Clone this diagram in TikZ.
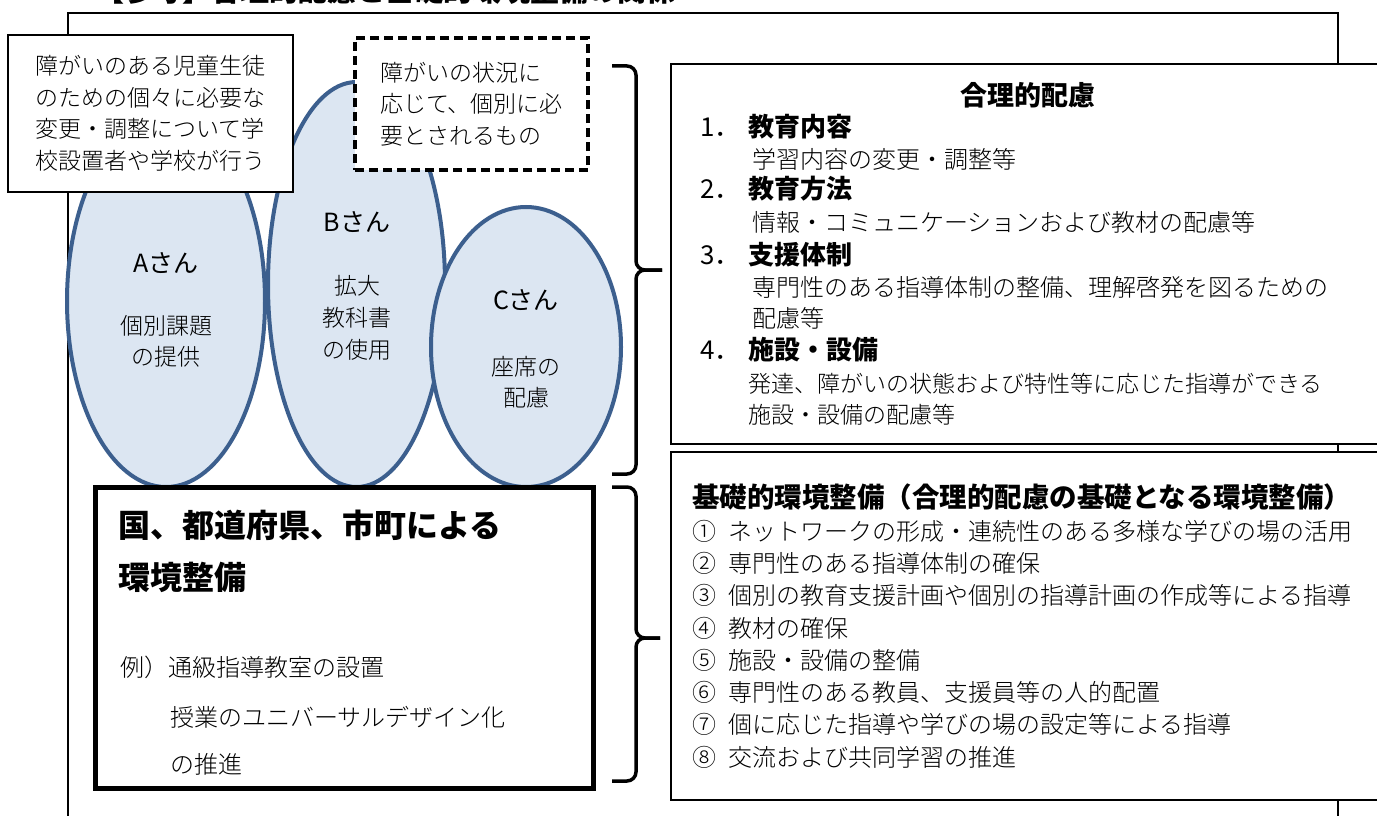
\documentclass[tikz,border=0pt]{standalone}
\usepackage{fontspec}
\setmainfont{Noto Sans CJK JP}
\IfFontExistsTF{Noto Sans CJK JP Light}
  {\newfontfamily\thin{Noto Sans CJK JP Light}}
  {\newfontfamily\thin{Noto Sans CJK JP}}
\usetikzlibrary{shapes.geometric}
\definecolor{pupilfill}{HTML}{DCE6F2}
\definecolor{pupilline}{HTML}{3C5F8E}
\newcommand{\fs}[2]{\fontsize{#1}{#2}\selectfont}

\begin{document}
\begin{tikzpicture}[x=1pt,y=-1pt]
  \tikzstyle{pupil}=[ellipse,draw=pupilline,line width=4pt,fill=pupilfill,inner sep=0pt]
  \tikzstyle{note}=[draw,fill=white,line width=2.5pt,inner sep=0pt]
  \tikzstyle{panel}=[draw,fill=white,line width=2pt,inner sep=0pt]
  \tikzstyle{line}=[anchor=west,inner sep=0pt]
  \tikzstyle{brace}=[draw,line width=3.5pt,rounded corners=9pt]

  \useasboundingbox (0,0) rectangle (1377,816);
  \clip (0,0) rectangle (1377,816);

  % title, cut by the top edge
  \node[line,font=\fs{29}{34}\bfseries] (title) at (95,-9) {【参考】合理的配慮と基礎的環境整備の関係};
  \node[draw,line width=2pt,minimum width=1270,minimum height=900,anchor=north west,inner sep=0pt] (frame) at (67,12) {};

  % pupils
  \node[pupil,minimum width=198,minimum height=372] (a) at (166,301) {};
  \node[pupil,minimum width=177,minimum height=405] (b) at (356.5,284.5) {};
  \node[pupil,minimum width=190,minimum height=280] (c) at (526,347) {};
  \node[font=\fs{25}{28}] (aname) at (166,263) {Aさん};
  \node[align=center,font=\thin\fs{23}{31}] (atext) at (166,341) {個別課題\\の提供};
  \node[font=\fs{25}{28}] (bname) at (357,222) {Bさん};
  \node[align=center,font=\thin\fs{23}{32}] (btext) at (357,318) {拡大\\教科書\\の使用};
  \node[font=\fs{25}{28}] (cname) at (526,300) {Cさん};
  \node[align=center,font=\thin\fs{23}{31}] (ctext) at (526,382) {座席の\\配慮};

  % notes
  \node[note,minimum width=285,minimum height=157,align=left,font=\thin\fs{23}{31.5}] (duty) at (150.5,113.5)
    {障がいのある児童生徒\\のための個々に必要な\\変更・調整について学\\校設置者や学校が行う};
  \node[note,line width=3.5pt,dash pattern=on 9pt off 5pt,minimum width=233,minimum height=132,align=left,font=\thin\fs{23}{31.5}] (need) at (471.5,104)
    {障がいの状況に\\応じて、個別に必\\要とされるもの};

  % environment by the state and the local bodies
  \node[draw,line width=5pt,minimum width=498,minimum height=301,inner sep=0pt] (base) at (344,637.5) {};
  \node[line,font=\fs{32}{36}\bfseries] (base1) at (118,525) {国、都道府県、市町による};
  \node[line,font=\fs{32}{36}\bfseries] (base2) at (118,577) {環境整備};
  \node[line,font=\thin\fs{24}{28}] (ex1) at (120,667) {例）通級指導教室の設置};
  \node[line,font=\thin\fs{24}{28}] (ex2) at (170,717) {授業のユニバーサルデザイン化};
  \node[line,font=\thin\fs{24}{28}] (ex3) at (170,764) {の推進};

  % reasonable accommodation
  \node[panel,minimum width=724,minimum height=380] (adjust) at (1033,254) {};
  \node[font=\fs{27}{30}\bfseries] (adjusthead) at (1028,95) {合理的配慮};
  \foreach \n/\t/\y in {1/教育内容/127, 2/教育方法/189, 3/支援体制/255, 4/施設・設備/350}
    \node[line,font=\fs{26}{30}] (head\n) at (700,\y) {\makebox[48pt][l]{\n．}\textbf{\t}};
  \node[line,font=\thin\fs{24}{28}] (body1) at (752,159) {学習内容の変更・調整等};
  \node[line,font=\thin\fs{24}{28}] (body2) at (752,222) {情報・コミュニケーションおよび教材の配慮等};
  \node[line,font=\thin\fs{24}{28}] (body3) at (752,287) {専門性のある指導体制の整備、理解啓発を図るための};
  \node[line,font=\thin\fs{24}{28}] (body3b) at (752,318) {配慮等};
  \node[line,font=\thin\fs{23}{28}] (body4) at (748,384) {発達、障がいの状態および特性等に応じた指導ができる};
  \node[line,font=\thin\fs{23}{28}] (body4b) at (748,415) {施設・設備の配慮等};

  % basic environment
  \node[panel,minimum width=724,minimum height=348] (basis) at (1033,626) {};
  \node[line,font=\fs{27.5}{30}\bfseries] (basishead) at (692,497) {基礎的環境整備（合理的配慮の基礎となる環境整備）};
  \foreach \n/\t [count=\i] in {①/ネットワークの形成・連続性のある多様な学びの場の活用,
      ②/専門性のある指導体制の確保,
      ③/個別の教育支援計画や個別の指導計画の作成等による指導,
      ④/教材の確保,
      ⑤/施設・設備の整備,
      ⑥/専門性のある教員、支援員等の人的配置,
      ⑦/個に応じた指導や学びの場の設定等による指導,
      ⑧/交流および共同学習の推進}
    \node[line,font=\thin\fs{24}{28}] (item\i) at (692,498.7+32.3*\i) {\makebox[36pt][l]{\n}\t};

  % braces
  \draw[brace] (612,66) -| (636,270) -- (662,270);
  \draw[brace] (612,474) -| (636,270) -- (662,270);
  \draw[brace] (612,487) -| (636,638) -- (660,638);
  \draw[brace] (612,781) -| (636,638) -- (660,638);
\end{tikzpicture}
\end{document}
